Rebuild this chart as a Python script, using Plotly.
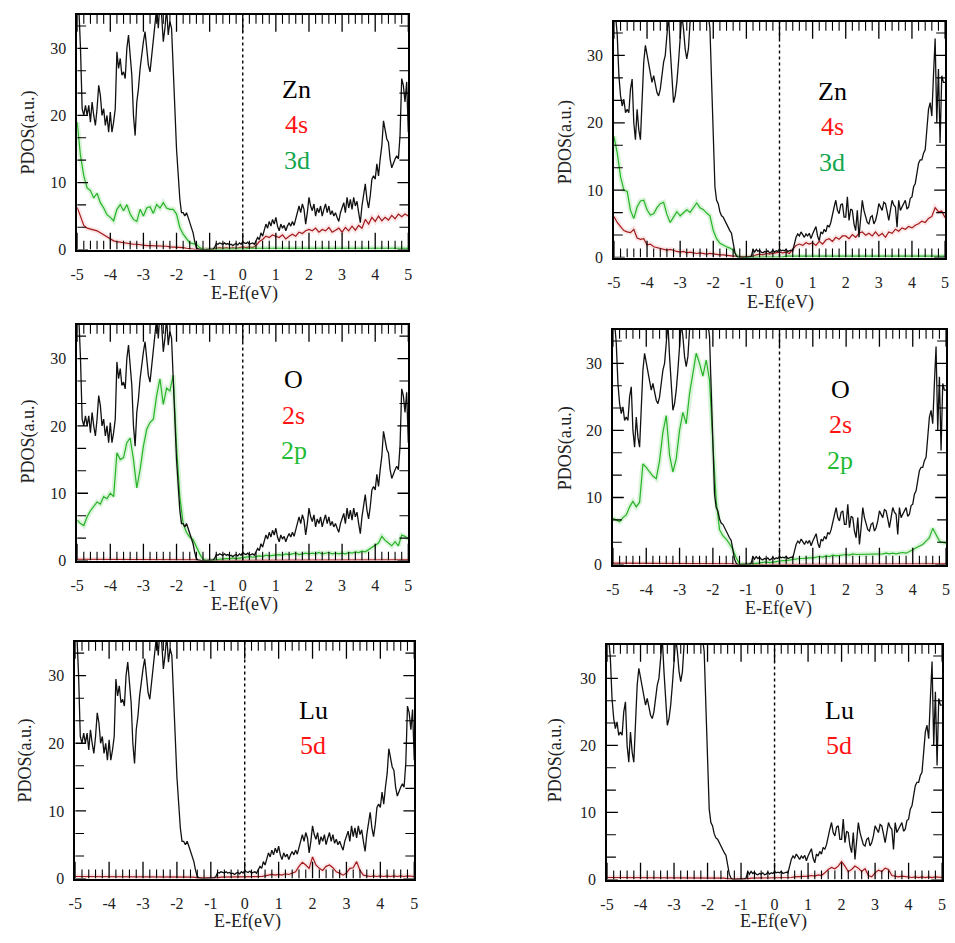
import numpy as np
import plotly.graph_objects as go

# ---------------------------------------------------------------- data
# Energy grids relative to the Fermi level (eV)
energy_fine = np.round(np.linspace(-5, 5, 201), 2)   # 0.05 eV step (total DOS)
energy = np.round(np.linspace(-5, 5, 101), 1)        # 0.1 eV step (projected DOS)
FERMI = 0.0

X_TICK_VALUES = [-5, -4, -3, -2, -1, 0, 1, 2, 3, 4, 5]
X_TICK_LABELS = ["-5", "-4", "-3", "-2", "-1", "0", "1", "2", "3", "4", "5"]
Y_TICK_VALUES = [0, 10, 20, 30]
Y_TICK_LABELS = ["0", "10", "20", "30"]
X_MINOR_STEP = 0.2
Y_MINOR_STEP = 10 / 3

# Total DOS, left-hand structure
total_left = [
    38, 36, 30, 21, 20, 21.5, 20, 21.5, 19, 22,
    20, 18.5, 21, 24.5, 23, 20, 21, 18.5, 20, 17.5,
    20.5, 17.5, 19, 21, 29.5, 27, 28.5, 26, 26.5, 25.5,
    30, 32, 29, 26, 20, 17, 22, 24, 27, 29.5,
    31, 32.5, 30, 27.5, 26.5, 29, 31, 34, 36, 33,
    37, 35, 31, 33, 36, 32, 34, 33, 28, 21,
    15, 10.5, 7.5, 5.5, 5.5, 5, 5.5, 4.8, 4, 3.5,
    2.5, 1.2, 0.3, 0.1, 0, 0, 0, 0, 0, 0,
    0.0, 0.0, 0.1, 0.3, 0.9, 0.8, 1.0, 0.9, 0.8, 1.0,
    0.8, 0.9, 0.7, 0.8, 0.6, 0.8, 0.9, 0.7, 1.0, 0.8,
    1.2, 1.0, 0.9, 1.1, 0.8, 0.9, 1.0, 0.8, 1.3, 1.8,
    1.5, 2.5, 2.0, 2.8, 3.8, 3.2, 4.2, 3.5, 4.5, 3.8,
    4.8, 3.5, 2.8, 3.8, 3.2, 3.6, 2.8, 3.5, 4.0, 3.5,
    4.2, 3.6, 4.5, 5.8, 6.5, 5.5, 6.8, 6.0, 3.8, 5.5,
    7.8, 6.5, 5.8, 6.8, 5.0, 6.2, 5.5, 6.5, 5.0, 6.0,
    6.8, 5.5, 6.5, 5.2, 5.8, 5.0, 5.5, 4.8, 4.2, 5.5,
    6.2, 7.0, 5.5, 7.8, 6.2, 7.5, 6.0, 7.8, 6.5, 7.2,
    5.5, 4.0, 6.5, 8.5, 9.8, 7.5, 6.2, 8.0, 10.5, 11.0,
    10.5, 12.8, 11.0, 13.5, 15.5, 19.2, 18.0, 16.5, 16.0, 13.5,
    12.2, 13.0, 13.5, 14.0, 13.5, 17.0, 25.5, 24.5, 22.0, 25.0,
    17.5,
]

# Total DOS, right-hand structure
total_right = [
    38, 36, 33, 27, 24, 22.5, 23.5, 21.5, 22, 21.5,
    25, 26.5, 20, 17.5, 22, 19, 17.5, 24, 29, 31.5,
    30, 28.5, 27.5, 26, 27, 25.5, 24.5, 24, 25, 27,
    29, 30, 34, 36, 31, 26, 23, 24, 26, 29,
    33, 36, 34, 31, 29.5, 31, 35, 37, 38, 37,
    38, 37, 38, 37, 38, 37, 38, 36, 34, 26,
    17, 10.5, 8.5, 8, 6.8, 6.2, 6, 5.5, 4.8, 4.5,
    4, 3.6, 2, 0.8, 0.2, 0, 0, 0, 0, 0,
    0.0, 0.0, 0.1, 0.2, 1.2, 0.8, 1.2, 0.9, 1.1, 0.8,
    0.7, 0.9, 0.8, 1.0, 0.7, 0.8, 1.1, 0.8, 1.0, 0.9,
    1.2, 1.0, 1.1, 1.0, 1.2, 0.9, 1.0, 1.1, 1.0, 2.2,
    3.0, 3.5, 3.2, 3.8, 3.4, 3.0, 3.5, 3.2, 3.6, 2.8,
    3.5, 4.2, 4.6, 3.2, 2.5, 3.8, 3.5, 4.2, 3.8, 4.8,
    4.5, 5.2, 6.5, 7.5, 8.5, 7.0, 6.5, 7.8, 8.0, 6.0,
    6.0, 9.0, 5.5, 7.2, 7.0, 5.0, 4.0, 7.0, 3.0, 5.5,
    8.5, 7.0, 6.0, 5.2, 5.0, 6.0, 6.2, 5.0, 5.5, 6.5,
    8.0, 7.5, 7.0, 8.2, 8.0, 6.8, 5.5, 7.0, 8.5, 7.8,
    7.5, 4.5, 8.5, 7.0, 7.5, 8.0, 8.5, 7.2, 7.5, 8.8,
    9.0, 10.5, 11.0, 12.5, 14.0, 14.5, 14.5, 15.5, 16.0, 19.0,
    22.0, 23.0, 21.0, 27.0, 32.5, 20.0, 28.0, 17.0, 27.0, 26.0,
    26.0,
]

# Zn projections
zn_4s_left = [
    6.3, 4.8, 3.6, 3.2, 3.1, 3.0, 2.8, 2.5, 2.2, 1.8,
    1.6, 1.3, 1.2, 1.1, 1.0, 0.9, 0.9, 0.8, 0.8, 0.7,
    0.7, 0.6, 0.6, 0.6, 0.5, 0.5, 0.5, 0.5, 0.4, 0.4,
    0.4, 0.3, 0.3, 0.2, 0.1, 0.0, 0.0, 0.0, 0.0, 0.0,
    0.0, 0.0, 0.2, 0.3, 0.2, 0.3, 0.2, 0.3, 0.2, 0.3,
    0.4, 0.3, 0.4, 0.3, 0.6, 1.2, 1.5, 2.0, 1.8, 2.2,
    2.0, 1.8, 2.2, 1.6, 2.0, 2.3, 2.0, 2.6, 2.4, 2.8,
    3.0, 2.8, 3.2, 2.6, 3.0, 2.8, 3.3, 2.6, 2.9, 3.2,
    2.6, 3.3, 2.8, 3.5, 2.9, 3.6, 3.2, 4.5, 3.8, 4.8,
    4.2, 5.0, 4.3, 4.8, 4.4, 5.1, 4.6, 5.3, 4.9, 5.3,
    5.0,
]
zn_3d_left = [
    19.0, 14.0, 11.0, 9.2, 8.8, 7.7, 8.4, 7.0, 6.2, 5.2,
    4.8, 4.3, 6.0, 6.7, 5.8, 6.7, 5.3, 4.5, 4.2, 6.0,
    5.0, 6.2, 6.4, 5.4, 6.7, 6.2, 7.0, 6.2, 6.0, 6.0,
    5.3, 3.3, 2.3, 1.6, 1.0, 0.9, 0.8, 0.3, 0.0, 0.0,
    0.0, 0.0, 0.0, 0.1, 0.1, 0.1, 0.1, 0.1, 0.1, 0.1,
    0.1, 0.1, 0.2, 0.2, 0.2, 0.2, 0.2, 0.2, 0.2, 0.2,
    0.2, 0.2, 0.2, 0.2, 0.2, 0.2, 0.2, 0.2, 0.2, 0.2,
    0.2, 0.2, 0.2, 0.2, 0.2, 0.2, 0.2, 0.2, 0.2, 0.2,
    0.2, 0.2, 0.2, 0.2, 0.2, 0.2, 0.2, 0.2, 0.2, 0.2,
    0.2, 0.2, 0.2, 0.2, 0.2, 0.2, 0.2, 0.2, 0.2, 0.2,
    0.2,
]
zn_4s_right = [
    6.1, 5.2, 4.6, 4.0, 3.8, 3.7, 4.2, 2.9, 2.7, 2.8,
    1.9, 2.0, 1.6, 1.5, 1.4, 1.3, 1.1, 1.2, 1.0, 0.9,
    0.8, 0.9, 0.7, 0.8, 0.7, 0.6, 0.7, 0.6, 0.5, 0.6,
    0.5, 0.5, 0.4, 0.4, 0.3, 0.3, 0.2, 0.2, 0.1, 0.1,
    0.1, 0.1, 0.2, 0.4, 0.5, 0.4, 0.6, 0.5, 0.6, 0.7,
    0.8, 0.7, 0.8, 0.6, 1.2, 1.8, 2.0, 1.8, 2.2, 2.0,
    2.2, 1.8, 2.4, 2.0, 2.6, 2.8, 2.4, 3.0, 2.7, 3.2,
    3.2, 2.8, 3.4, 3.0, 3.6, 3.8, 3.3, 3.6, 3.2, 3.8,
    3.2, 3.6, 3.0, 3.8, 3.6, 4.2, 3.9, 4.4, 4.2, 4.6,
    4.4, 4.8, 5.0, 5.4, 5.2, 5.8, 6.1, 7.4, 6.8, 6.9,
    5.9,
]
zn_3d_right = [
    18.0, 15.5, 12.0, 10.0, 9.8, 7.0, 5.8, 7.5, 8.4, 8.5,
    7.1, 6.3, 6.5, 7.4, 8.0, 8.2, 6.4, 5.2, 6.0, 6.8,
    6.2, 6.6, 7.1, 6.7, 7.5, 8.1, 7.4, 7.1, 6.6, 6.2,
    4.0, 2.8, 2.1, 1.8, 1.6, 1.4, 1.1, 0.3, 0.0, 0.0,
    0.0, 0.0, 0.0, 0.1, 0.1, 0.1, 0.1, 0.1, 0.1, 0.1,
    0.1, 0.1, 0.2, 0.2, 0.2, 0.2, 0.2, 0.2, 0.2, 0.2,
    0.2, 0.2, 0.2, 0.2, 0.2, 0.2, 0.2, 0.2, 0.2, 0.2,
    0.2, 0.2, 0.2, 0.2, 0.2, 0.2, 0.2, 0.2, 0.2, 0.2,
    0.2, 0.2, 0.2, 0.2, 0.2, 0.2, 0.2, 0.2, 0.2, 0.2,
    0.2, 0.2, 0.2, 0.2, 0.2, 0.2, 0.2, 0.2, 0.2, 0.2,
    0.2,
]

# O projections
o_2s_left = [
    0.2, 0.2, 0.2, 0.2, 0.2, 0.2, 0.2, 0.2, 0.2, 0.2,
    0.2, 0.2, 0.2, 0.2, 0.2, 0.2, 0.2, 0.2, 0.2, 0.2,
    0.2, 0.2, 0.2, 0.2, 0.2, 0.2, 0.2, 0.2, 0.2, 0.2,
    0.2, 0.2, 0.2, 0.2, 0.1, 0.1, 0.1, 0.0, 0.0, 0.0,
    0.0, 0.0, 0.1, 0.1, 0.1, 0.1, 0.1, 0.1, 0.1, 0.1,
    0.1, 0.1, 0.1, 0.1, 0.1, 0.1, 0.1, 0.1, 0.1, 0.1,
    0.1, 0.1, 0.1, 0.1, 0.1, 0.1, 0.1, 0.1, 0.1, 0.1,
    0.1, 0.1, 0.1, 0.1, 0.1, 0.1, 0.1, 0.1, 0.1, 0.1,
    0.1, 0.1, 0.1, 0.1, 0.1, 0.1, 0.1, 0.1, 0.1, 0.1,
    0.1, 0.1, 0.1, 0.1, 0.1, 0.1, 0.1, 0.1, 0.1, 0.1,
    0.1,
]
o_2p_left = [
    6.0, 5.5, 5.2, 6.5, 7.4, 8.0, 8.7, 8.4, 9.5, 9.2,
    10.0, 9.5, 16.0, 15.0, 15.3, 17.5, 18.2, 15.0, 10.8, 13.5,
    17.0, 19.5, 20.5, 21.0, 24.5, 27.0, 23.2, 25.6, 25.2, 27.5,
    17.0, 9.5, 5.5, 4.2, 3.5, 3.1, 2.0, 1.0, 0.2, 0.0,
    0.0, 0.0, 0.1, 0.2, 0.3, 0.3, 0.3, 0.4, 0.3, 0.4,
    0.5, 0.5, 0.6, 0.5, 0.6, 0.7, 0.6, 0.8, 0.7, 0.8,
    0.8, 0.9, 0.8, 1.0, 0.9, 1.0, 1.1, 0.9, 1.0, 1.1,
    1.0, 1.1, 1.0, 1.2, 1.0, 1.1, 1.2, 1.0, 1.1, 1.0,
    1.1, 1.0, 1.2, 1.1, 1.3, 1.2, 1.4, 1.3, 1.6, 2.0,
    2.2, 2.6, 3.6, 3.0, 2.6, 2.2, 2.8, 2.2, 3.8, 3.6,
    3.2,
]
o_2s_right = [
    0.2, 0.2, 0.2, 0.2, 0.2, 0.2, 0.2, 0.2, 0.2, 0.2,
    0.2, 0.2, 0.2, 0.2, 0.2, 0.2, 0.2, 0.2, 0.2, 0.2,
    0.2, 0.2, 0.2, 0.2, 0.2, 0.2, 0.2, 0.2, 0.2, 0.2,
    0.2, 0.2, 0.2, 0.2, 0.1, 0.1, 0.1, 0.0, 0.0, 0.0,
    0.0, 0.0, 0.1, 0.1, 0.1, 0.1, 0.1, 0.1, 0.1, 0.1,
    0.1, 0.1, 0.1, 0.1, 0.1, 0.1, 0.1, 0.1, 0.1, 0.1,
    0.1, 0.1, 0.1, 0.1, 0.1, 0.1, 0.1, 0.1, 0.1, 0.1,
    0.1, 0.1, 0.1, 0.1, 0.1, 0.1, 0.1, 0.1, 0.1, 0.1,
    0.1, 0.1, 0.1, 0.1, 0.1, 0.1, 0.1, 0.1, 0.1, 0.1,
    0.1, 0.1, 0.1, 0.1, 0.1, 0.1, 0.1, 0.1, 0.1, 0.1,
    0.1,
]
o_2p_right = [
    6.9, 6.6, 6.4, 7.0, 7.4, 8.6, 9.4, 8.6, 9.3, 15.0,
    14.5, 13.8, 13.2, 12.8, 15.5, 19.7, 22.2, 16.3, 13.8, 15.8,
    20.0, 22.7, 21.0, 25.5, 28.5, 31.5, 30.0, 28.1, 30.5, 27.5,
    18.0, 9.5, 5.2, 4.3, 3.8, 3.1, 2.2, 1.0, 0.1, 0.0,
    0.0, 0.0, 0.1, 0.2, 0.3, 0.3, 0.4, 0.3, 0.4, 0.4,
    0.5, 0.6, 0.6, 0.7, 0.8, 0.8, 0.9, 0.9, 1.0, 1.0,
    1.0, 1.1, 1.2, 1.1, 1.3, 1.2, 1.4, 1.3, 1.4, 1.5,
    1.5, 1.4, 1.6, 1.5, 1.5, 1.6, 1.5, 1.6, 1.5, 1.6,
    1.5, 1.6, 1.7, 1.6, 1.7, 1.6, 1.7, 1.8, 1.7, 1.9,
    2.2, 2.5, 2.8, 3.0, 3.5, 4.0, 5.4, 4.5, 3.5, 3.3,
    3.2,
]

# Lu projections
lu_5d_left = [
    0.3, 0.3, 0.3, 0.3, 0.3, 0.3, 0.3, 0.3, 0.3, 0.3,
    0.3, 0.3, 0.3, 0.3, 0.3, 0.3, 0.3, 0.3, 0.3, 0.3,
    0.3, 0.3, 0.3, 0.3, 0.3, 0.3, 0.3, 0.3, 0.3, 0.3,
    0.3, 0.3, 0.3, 0.2, 0.2, 0.2, 0.1, 0.1, 0.0, 0.0,
    0.0, 0.0, 0.1, 0.2, 0.2, 0.2, 0.2, 0.2, 0.2, 0.2,
    0.2, 0.2, 0.3, 0.2, 0.3, 0.3, 0.4, 0.5, 0.6, 0.5,
    0.6, 0.5, 0.7, 0.6, 0.8, 1.0, 1.8, 2.4, 2.0, 1.5,
    3.2, 2.0, 1.5, 1.2, 1.8, 2.0, 1.6, 1.0, 0.8, 0.5,
    0.8, 1.5, 1.6, 2.5, 1.2, 0.5, 0.4, 0.3, 0.4, 0.3,
    0.4, 0.3, 0.4, 0.3, 0.4, 0.3, 0.4, 0.3, 0.4, 0.3,
    0.3,
]
lu_5d_right = [
    0.3, 0.3, 0.3, 0.3, 0.3, 0.3, 0.3, 0.3, 0.3, 0.3,
    0.3, 0.3, 0.3, 0.3, 0.3, 0.3, 0.3, 0.3, 0.3, 0.3,
    0.3, 0.3, 0.3, 0.3, 0.3, 0.3, 0.3, 0.3, 0.3, 0.3,
    0.3, 0.3, 0.3, 0.2, 0.2, 0.2, 0.1, 0.1, 0.0, 0.0,
    0.0, 0.0, 0.1, 0.2, 0.2, 0.2, 0.2, 0.2, 0.2, 0.2,
    0.2, 0.2, 0.3, 0.2, 0.3, 0.3, 0.4, 0.4, 0.5, 0.4,
    0.5, 0.6, 0.5, 0.7, 0.6, 1.0, 1.5, 1.8, 1.6, 2.0,
    2.7, 2.0, 1.2, 1.5, 2.0, 1.7, 1.2, 1.6, 0.6, 0.4,
    1.0, 1.4, 1.2, 1.7, 1.5, 0.6, 0.5, 0.4, 0.5, 0.4,
    0.4, 0.3, 0.4, 0.3, 0.4, 0.3, 0.4, 0.3, 0.4, 0.3,
    0.3,
]

# ---------------------------------------------------------------- styling
FIG_W, FIG_H = 955, 943
SERIF = "Liberation Serif"
TEXT_GREY = "#222222"
LINE_BLACK = "#111111"
LINE_RED = "#a3191c"
LINE_GREEN = "#27b327"
HALO_RED = "rgba(235,120,120,0.18)"
HALO_GREEN = "rgba(120,215,120,0.28)"
TXT_RED = "#ff1414"
TXT_GREEN_D = "#12a64c"
TXT_GREEN_P = "#22bb33"

# tick lengths in pixels
X_MAJOR_LEN, X_MINOR_LEN = 17, 9
Y_MAJOR_LEN, Y_MINOR_LEN = 11, 9

# each panel: box in pixels (left, right, top, bottom), total DOS, projected curves,
# element / orbital labels and where the axis titles sit
panels = [
    dict(box=(71, 406, 15, 252), total=total_left,
         proj=[(zn_4s_left, "s"), (zn_3d_left, "d")],
         labels=[("Zn", "#000000"), ("4s", TXT_RED), ("3d", TXT_GREEN_D)],
         label_xy=(293, 90), ytitle_xy=(22, 134), xtitle_xy=(240, 296)),
    dict(box=(614, 949, 22, 260), total=total_right,
         proj=[(zn_4s_right, "s"), (zn_3d_right, "d")],
         labels=[("Zn", "#000000"), ("4s", TXT_RED), ("3d", TXT_GREEN_D)],
         label_xy=(835, 92), ytitle_xy=(565, 143), xtitle_xy=(783, 305)),
    dict(box=(71, 406, 328, 566), total=total_left,
         proj=[(o_2s_left, "s"), (o_2p_left, "p")],
         labels=[("O", "#000000"), ("2s", TXT_RED), ("2p", TXT_GREEN_P)],
         label_xy=(290, 383), ytitle_xy=(22, 446), xtitle_xy=(240, 610)),
    dict(box=(613, 950, 333, 570), total=total_right,
         proj=[(o_2s_right, "s"), (o_2p_right, "p")],
         labels=[("O", "#000000"), ("2s", TXT_RED), ("2p", TXT_GREEN_P)],
         label_xy=(843, 393), ytitle_xy=(565, 452), xtitle_xy=(780, 614)),
    dict(box=(69, 412, 648, 887), total=total_left,
         proj=[(lu_5d_left, "s")],
         labels=[("Lu", "#000000"), ("5d", TXT_RED)],
         label_xy=(310, 717), ytitle_xy=(19, 768), xtitle_xy=(243, 930)),
    dict(box=(607, 946, 651, 888), total=total_right,
         proj=[(lu_5d_right, "s")],
         labels=[("Lu", "#000000"), ("5d", TXT_RED)],
         label_xy=(842, 717), ytitle_xy=(555, 768), xtitle_xy=(775, 930)),
]
LABEL_STEP = 36  # vertical spacing between stacked labels (px)


def px_x(x):
    return x / FIG_W


def px_y(y):
    return 1 - y / FIG_H


# major / minor tick positions (data units)
x_min, x_max = X_TICK_VALUES[0], X_TICK_VALUES[-1]
y_min, y_max = 0, 35
n_x_minor = int(round((x_max - x_min) / X_MINOR_STEP))
x_minor = [x_min + k * X_MINOR_STEP for k in range(n_x_minor + 1)]
x_minor = [v for v in x_minor if min(abs(v - t) for t in X_TICK_VALUES) > 1e-6]
n_y_minor = int(y_max // Y_MINOR_STEP)
y_minor = [k * Y_MINOR_STEP for k in range(n_y_minor + 1)]
y_minor = [v for v in y_minor if min(abs(v - t) for t in Y_TICK_VALUES) > 1e-6]


def frame_tick_paths(x_vals, y_vals, x_len_px, y_len_px, w_px, h_px):
    """Polyline (None-separated) for inward ticks on all four sides of a frame."""
    dy = x_len_px / h_px * (y_max - y_min)   # vertical tick length, data units
    dx = y_len_px / w_px * (x_max - x_min)   # horizontal tick length, data units
    xs, ys = [], []
    for v in x_vals:
        xs += [v, v, None, v, v, None]
        ys += [y_min, y_min + dy, None, y_max, y_max - dy, None]
    for v in y_vals:
        xs += [x_min, x_min + dx, None, x_max, x_max - dx, None]
        ys += [v, v, None, v, v, None]
    return xs, ys


fig = go.Figure()
annotations = []
shapes = []
layout_axes = {}

for i, p in enumerate(panels, start=1):
    xa = "x" if i == 1 else f"x{i}"
    ya = "y" if i == 1 else f"y{i}"
    left, right, top, bottom = p["box"]
    w_px, h_px = right - left, bottom - top

    # projected curves: soft halo underneath, then the line itself
    for values, kind in p["proj"]:
        color = LINE_RED if kind == "s" else LINE_GREEN
        halo = HALO_RED if kind == "s" else HALO_GREEN
        fig.add_trace(go.Scatter(x=energy, y=values, mode="lines", xaxis=xa, yaxis=ya,
                                 line=dict(color=halo, width=5), hoverinfo="skip"))
        fig.add_trace(go.Scatter(x=energy, y=values, mode="lines", xaxis=xa, yaxis=ya,
                                 line=dict(color=color, width=1.2)))
    # total DOS
    fig.add_trace(go.Scatter(x=energy_fine, y=p["total"], mode="lines", xaxis=xa, yaxis=ya,
                             line=dict(color=LINE_BLACK, width=1.3)))

    # inward frame ticks, major then minor
    for xv, yv, xl, yl, wd in ((X_TICK_VALUES, Y_TICK_VALUES, X_MAJOR_LEN, Y_MAJOR_LEN, 1.3),
                               (x_minor, y_minor, X_MINOR_LEN, Y_MINOR_LEN, 1.1)):
        tx, ty = frame_tick_paths(xv, yv, xl, yl, w_px, h_px)
        fig.add_trace(go.Scatter(x=tx, y=ty, mode="lines", xaxis=xa, yaxis=ya,
                                 line=dict(color="black", width=wd),
                                 connectgaps=False, hoverinfo="skip"))

    layout_axes["xaxis" if i == 1 else f"xaxis{i}"] = dict(
        showline=True, linecolor="black", linewidth=1.6, mirror=True,
        showgrid=False, zeroline=False, ticks="", anchor=ya,
        domain=[px_x(left), px_x(right)], range=[x_min, x_max],
        tickmode="array", tickvals=X_TICK_VALUES, ticktext=X_TICK_LABELS,
        ticklabelstandoff=9, tickfont=dict(size=16))
    layout_axes["yaxis" if i == 1 else f"yaxis{i}"] = dict(
        showline=True, linecolor="black", linewidth=1.6, mirror=True,
        showgrid=False, zeroline=False, ticks="", anchor=xa,
        domain=[px_y(bottom), px_y(top)], range=[y_min, y_max],
        tickmode="array", tickvals=Y_TICK_VALUES, ticktext=Y_TICK_LABELS,
        ticklabelstandoff=6, tickfont=dict(size=16))

    # Fermi level marker
    shapes.append(dict(type="line", xref=xa, yref=f"{ya} domain", x0=FERMI, x1=FERMI,
                       y0=0, y1=1, line=dict(color="black", width=1.4, dash="dot"),
                       layer="below"))

    # axis titles
    tx_, ty_ = p["xtitle_xy"]
    annotations.append(dict(text="E-Ef(eV)", x=px_x(tx_), y=px_y(ty_), xref="paper",
                            yref="paper", showarrow=False, xanchor="center",
                            yanchor="middle", font=dict(size=18)))
    vx, vy = p["ytitle_xy"]
    annotations.append(dict(text="PDOS(a.u.)", x=px_x(vx), y=px_y(vy), xref="paper",
                            yref="paper", showarrow=False, xanchor="center",
                            yanchor="middle", textangle=-90, font=dict(size=18)))

    # element / orbital labels
    lx, ly = p["label_xy"]
    for k, (txt, col) in enumerate(p["labels"]):
        annotations.append(dict(text=txt, x=px_x(lx), y=px_y(ly + k * LABEL_STEP),
                                xref="paper", yref="paper", showarrow=False,
                                xanchor="center", yanchor="middle",
                                font=dict(size=26, color=col)))

fig.update_layout(
    width=FIG_W, height=FIG_H,
    margin=dict(l=0, r=0, t=0, b=0),
    paper_bgcolor="white", plot_bgcolor="white",
    font=dict(family=SERIF, color=TEXT_GREY),
    showlegend=False,
    annotations=annotations,
    shapes=shapes,
    **layout_axes,
)

fig.write_html("out.html")
